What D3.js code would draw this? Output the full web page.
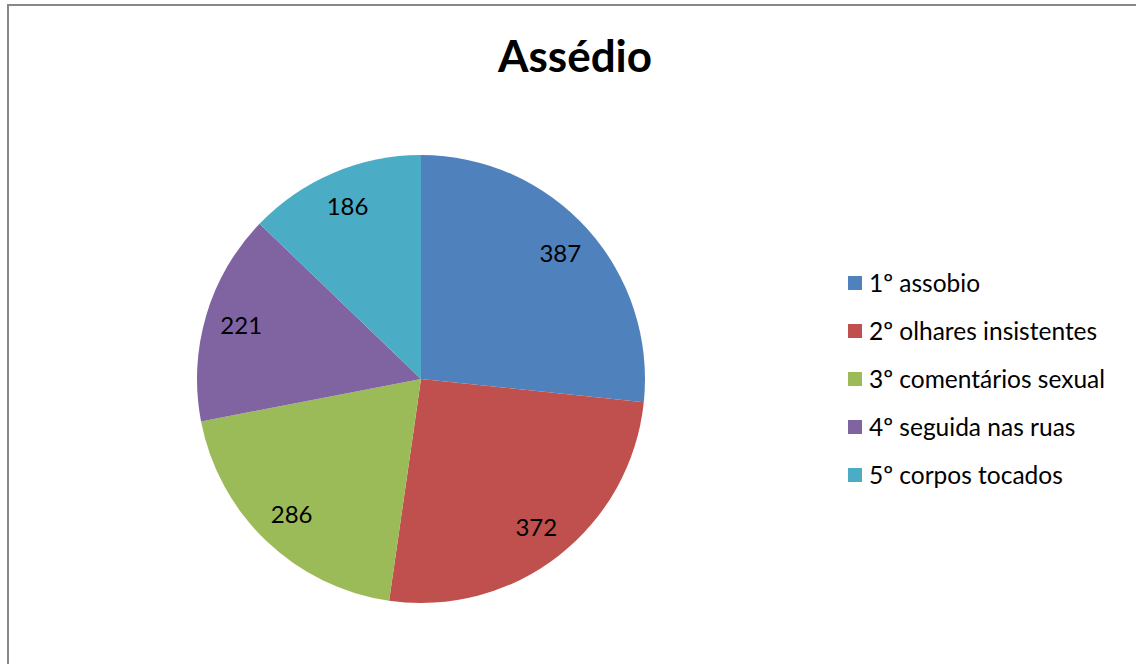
<!DOCTYPE html>
<html>
<head>
<meta charset="utf-8">
<script src="https://cdn.jsdelivr.net/npm/d3@7"></script>
<style>
  body { margin: 0; background: #fff; }
  svg { display: block; }
</style>
</head>
<body>
<div id="chart"></div>
<script>
const title = "Assédio";
const categories = ["1º assobio", "2º olhares insistentes", "3º comentários sexual", "4º seguida nas ruas", "5º corpos tocados"];
const values = [387, 372, 286, 221, 186];
const colors = ["#4F81BD", "#C0504D", "#9BBB59", "#8064A2", "#4BACC6"];

const width = 1136;
const height = 664;
const cx = 421, cy = 379, radius = 224;
const font = "Lato, 'Open Sans', sans-serif";

const data = categories.map((c, i) => ({ name: c, value: values[i] }));

const svg = d3.select("#chart")
  .append("svg")
  .attr("width", width)
  .attr("height", height)
  .attr("viewBox", [0, 0, width, height]);

// chart frame
svg.append("rect")
  .attr("x", 8).attr("y", 5)
  .attr("width", width + 10).attr("height", height + 10)
  .attr("fill", "#fff")
  .attr("stroke", "#878787")
  .attr("stroke-width", 2);

svg.append("text")
  .attr("x", 575).attr("y", 72)
  .attr("text-anchor", "middle")
  .attr("font-family", font)
  .attr("font-weight", "bold")
  .attr("font-size", 44)
  .text(title);

const pie = d3.pie().sort(null).value(d => d.value);
const arc = d3.arc().innerRadius(0).outerRadius(radius);
const labelArc = d3.arc().innerRadius(radius * 0.837).outerRadius(radius * 0.837);

const color = d3.scaleOrdinal().domain(categories).range(colors);

const g = svg.append("g").attr("transform", `translate(${cx},${cy})`);
const arcs = pie(data);

g.selectAll("path")
  .data(arcs)
  .join("path")
  .attr("fill", d => color(d.data.name))
  .attr("d", arc);

g.selectAll("text")
  .data(arcs)
  .join("text")
  .attr("transform", d => `translate(${labelArc.centroid(d)})`)
  .attr("text-anchor", "middle")
  .attr("dy", "0.36em")
  .attr("font-family", font)
  .attr("font-size", 24)
  .attr("fill", "#000")
  .text(d => d.data.value);

// legend
const legend = svg.append("g")
  .selectAll("g")
  .data(categories)
  .join("g")
  .attr("transform", (d, i) => `translate(848,${283 + i * 48})`);

legend.append("rect")
  .attr("x", 0).attr("y", -7)
  .attr("width", 14).attr("height", 14)
  .attr("fill", d => color(d));

legend.append("text")
  .attr("x", 21)
  .attr("dy", "0.36em")
  .attr("font-family", font)
  .attr("font-size", 24.5)
  .text(d => d);
</script>
</body>
</html>
